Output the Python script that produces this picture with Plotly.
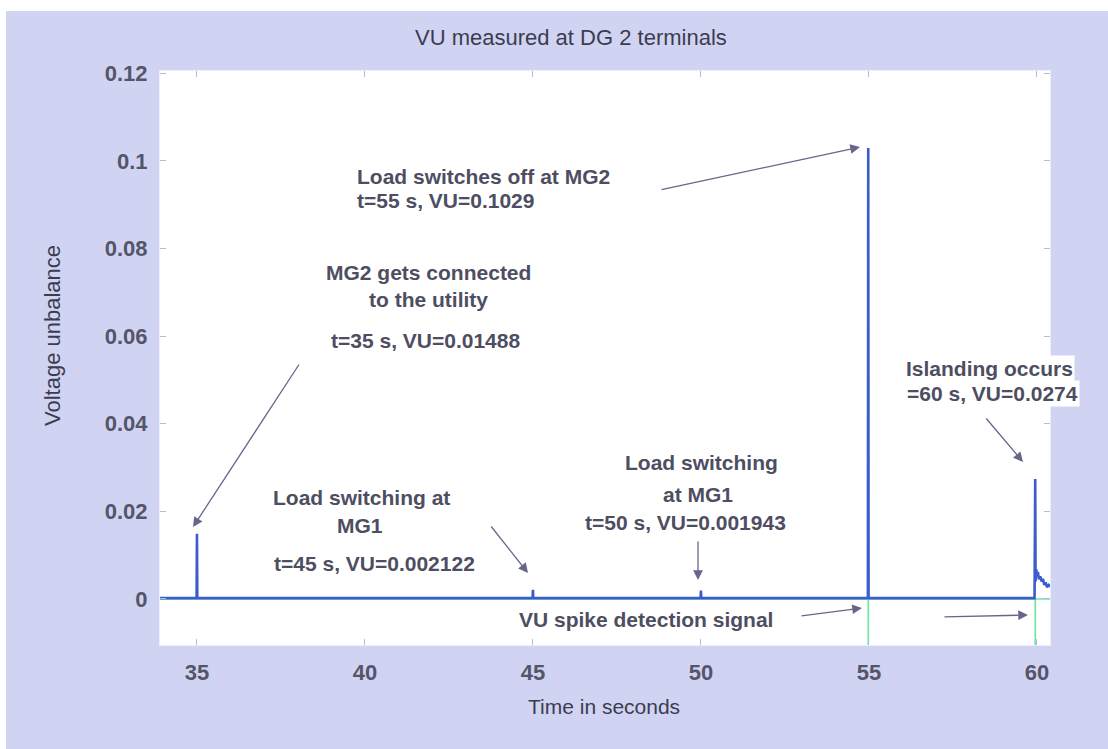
import plotly.graph_objects as go

# ---- data ----
time_s = [33.9, 34.99, 35.0, 35.01, 44.99, 45.0, 45.01, 49.99, 50.0, 50.01,
          54.97, 54.98, 54.99, 59.93, 59.95, 59.96, 59.98, 60.0, 60.03, 60.06,
          60.1, 60.14, 60.18, 60.22, 60.26, 60.3, 60.35, 60.4]
vu = [0.0002, 0.0002, 0.01488, 0.0002, 0.0002, 0.002122, 0.0002, 0.0002, 0.001943, 0.0002,
      0.0002, 0.1029, 0.0002, 0.0002, 0.0274, 0.004, 0.0068, 0.0055, 0.0062, 0.0045,
      0.0052, 0.004, 0.0046, 0.0032, 0.0038, 0.0027, 0.0032, 0.0028]

sig_time = [33.9, 54.98, 54.98, 54.985, 59.95, 59.95, 59.955, 60.4]
sig_val = [0.0, 0.0, -0.02, 0.0, 0.0, -0.02, 0.0, 0.0]

x_ticks = [35, 40, 45, 50, 55, 60]
y_ticks = [0, 0.02, 0.04, 0.06, 0.08, 0.1, 0.12]
y_tick_text = ["0", "0.02", "0.04", "0.06", "0.08", "0.1", "0.12"]

# ---- layout geometry (pixels) ----
W, H = 1108, 749
L, R, T, B = 160, 58, 71, 104
PW, PH = W - L - R, H - T - B

def px(x):
    return (x - L) / PW

def py(y):
    return (H - B - y) / PH

FONT = "Liberation Sans, Arial, sans-serif"
TXT = "#4e4e62"
BG = "#d0d4f2"

fig = go.Figure()
fig.add_trace(go.Scatter(x=sig_time, y=sig_val, mode="lines",
                         line=dict(color="#6ee8a4", width=1.6), hoverinfo="skip"))
fig.add_trace(go.Scatter(x=time_s, y=vu, mode="lines",
                         line=dict(color="#3a5ccc", width=2.6), hoverinfo="skip"))

annotations = []

def text(s, x, y, anchor="center", size=21, bold=True, bg=None):
    d = dict(text=s, x=px(x), y=py(y), xref="paper", yref="paper", showarrow=False,
             xanchor=anchor, yanchor="middle",
             font=dict(family=FONT, size=size, color=TXT, weight="bold" if bold else "normal"))
    if bg:
        d["bgcolor"] = bg
    annotations.append(d)

def arrow(tx, ty, hx, hy):
    annotations.append(dict(text="", x=px(hx), y=py(hy), xref="paper", yref="paper",
                            ax=tx - hx, ay=ty - hy, showarrow=True, arrowhead=2,
                            arrowsize=1.5, arrowwidth=1.3, arrowcolor="#66668a",
                            standoff=0, startstandoff=0))

text("Load switches off at MG2", 355, 176, anchor="left")
text("t=55 s, VU=0.1029", 355, 200, anchor="left")
text("MG2 gets connected", 428, 272)
text("to the utility", 428, 299)
text("t=35 s, VU=0.01488", 425, 340)
text("Load switching at", 361, 497)
text("MG1", 360, 525)
text("t=45 s, VU=0.002122", 374, 563)
text("Load switching", 701, 463)
text("at MG1", 698, 495)
text("t=50 s, VU=0.001943", 685, 522)
text("Islanding occurs", 989, 368, bg="white")
text("=60 s, VU=0.0274", 992, 394, bg="white")
text("VU spike detection signal", 646, 619)

arrow(660, 190, 860, 147)
arrow(300, 363, 193, 527)
arrow(490, 525, 528, 573)
arrow(698, 540, 698, 580)
arrow(985, 417, 1023, 462)
arrow(800, 616, 862, 608)
arrow(943, 617, 1028, 615)

# titles
annotations.append(dict(text="VU measured at DG 2 terminals", x=px(571), y=py(37),
                        xref="paper", yref="paper", showarrow=False,
                        xanchor="center", yanchor="middle",
                        font=dict(family=FONT, size=22, color="#3c3c50")))
annotations.append(dict(text="Time in seconds", x=px(604), y=py(706),
                        xref="paper", yref="paper", showarrow=False,
                        xanchor="center", yanchor="middle",
                        font=dict(family=FONT, size=21, color="#3c3c50")))
annotations.append(dict(text="Voltage unbalance", x=px(52), y=py(336),
                        xref="paper", yref="paper", showarrow=False, textangle=-90,
                        xanchor="center", yanchor="middle",
                        font=dict(family=FONT, size=22, color="#3c3c50")))

shapes = [
    dict(type="rect", xref="paper", yref="paper", x0=px(-5), x1=px(W + 5), y0=py(11), y1=py(-5),
         fillcolor="white", line=dict(width=0), layer="above"),
    dict(type="rect", xref="paper", yref="paper", x0=px(-5), x1=px(6), y0=py(H + 5), y1=py(-5),
         fillcolor="white", line=dict(width=0), layer="above"),
]

axis_common = dict(ticks="inside", ticklen=6, tickcolor="#b4b8e0", tickwidth=1.2,
                   mirror="ticks", showline=True, linecolor="#eceefb", linewidth=1,
                   showgrid=False, zeroline=False,
                   tickfont=dict(family=FONT, size=22, color="#55556a", weight="bold"))

fig.update_layout(
    width=W, height=H,
    margin=dict(l=L, r=R, t=T, b=B),
    paper_bgcolor=BG, plot_bgcolor="white",
    showlegend=False,
    xaxis=dict(range=[33.9, 60.39], tickvals=x_ticks, ticklabelstandoff=8, **axis_common),
    yaxis=dict(range=[-0.0105, 0.1205], tickvals=y_ticks, ticktext=y_tick_text,
               ticklabelstandoff=7, **axis_common),
    annotations=annotations,
    shapes=shapes,
)

fig.write_html("out.html")
